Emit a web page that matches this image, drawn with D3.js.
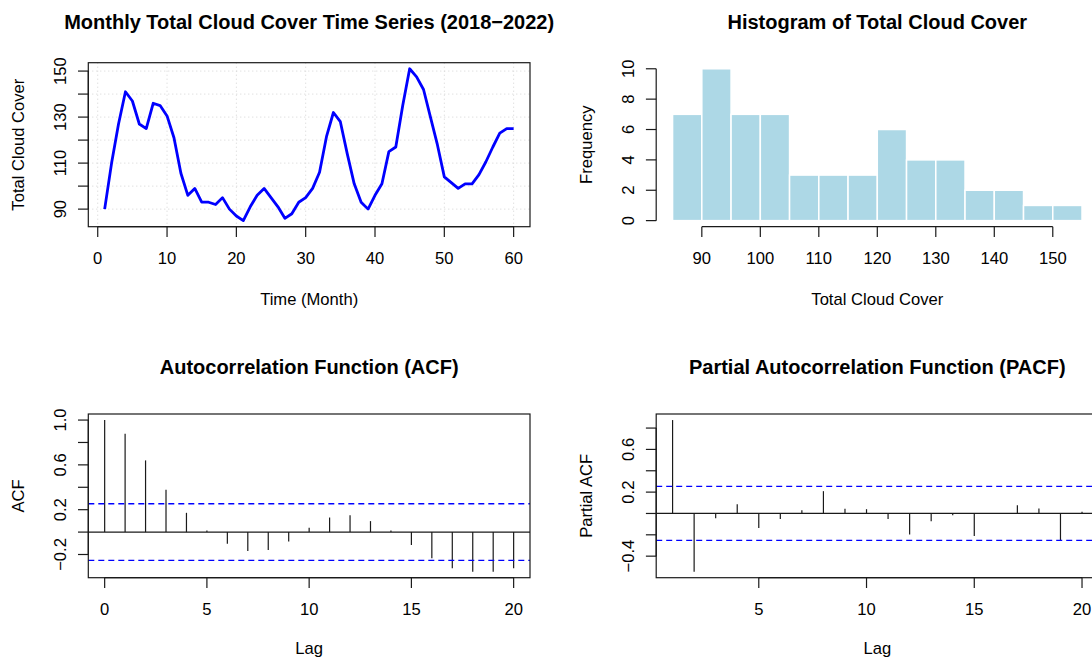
<!DOCTYPE html>
<html>
<head>
<meta charset="utf-8">
<script src="https://cdn.jsdelivr.net/npm/d3@7"></script>
<style>
	body { margin: 0; background: #fff; }
	svg { display: block; font-family: "Liberation Sans", Arial, Helvetica, sans-serif; }
	.title { font-size: 20px; font-weight: bold; }
	.lab, .tick-lab { font-size: 16.6px; }
</style>
</head>
<body>
<svg id="chart" width="1092" height="658"></svg>
<script>

// monthly total cloud cover, months 1..60
var months = d3.range(1, 61);
var cloud = [
	90, 110, 127, 141, 137, 127, 125, 136, 135, 130.5,
	121, 105.6, 96, 99, 93, 93, 92, 95, 90, 87,
	85, 91, 96, 99, 95, 91, 86, 88, 93, 95,
	99, 106, 121.5, 132, 128, 114, 101, 93, 90, 96,
	101, 115, 117, 135, 151, 147.5, 142, 130, 118, 104,
	101.5, 99, 101, 101, 105, 110.6, 117, 123, 125, 125
];

// histogram, breaks every 5 from 85 to 155
var histBreaks = d3.range(85, 156, 5);
var histCounts = [7, 10, 7, 7, 3, 3, 3, 6, 4, 4, 2, 2, 1, 1];

var acfLags = d3.range(0, 21);
var acfVals = [1.0, 0.877, 0.64, 0.379, 0.172, 0.015, -0.104, -0.169, -0.16, -0.083,
	0.039, 0.13, 0.151, 0.098, 0.015, -0.116, -0.234, -0.323, -0.353, -0.353, -0.323];

var pacfLags = d3.range(1, 21);
var pacfVals = [0.875, -0.545, -0.044, 0.087, -0.137, -0.053, 0.031, 0.209, 0.044, 0.04,
	-0.053, -0.196, -0.072, -0.016, -0.212, -0.006, 0.078, 0.047, -0.255, 0.016];

var ciBound = 0.253;		// qnorm(0.975)/sqrt(60)

var tsXTicks = d3.range(0, 61, 10);
var tsYTicks = d3.range(90, 151, 10), tsYLabels = [90, 110, 130, 150];
var histXTicks = d3.range(90, 151, 10);
var histYTicks = d3.range(0, 11, 2);
var acfXTicks = [0, 5, 10, 15, 20];
var acfYTicks = [-0.2, 0, 0.2, 0.4, 0.6, 0.8, 1.0], acfYLabels = [-0.2, 0.2, 0.6, 1.0];
var pacfXTicks = [5, 10, 15, 20];
var pacfYTicks = [-0.4, -0.2, 0, 0.2, 0.4, 0.6, 0.8], pacfYLabels = [-0.4, 0.2, 0.6];

var svg = d3.select("#chart");
var ink = "#1a1a1a";
var TL = 10.3;		// tick length

// plot regions (left/right column, top/bottom row)
var cols = [ [88.3, 530], [656.2, 1098.4] ];
var rows = [ [62.7, 226.7, 33.4, 78], [414, 577.7, 40, 76] ];		// top, bottom, title gap, xlab gap

function pad(ext)	{		// R style 4% extension
	var d = (ext[1] - ext[0]) * 0.04;
	return [ext[0] - d, ext[1] + d];
}

var intFmt = v => d3.format("d")(v);
var decFmt = v => (v < 0 ? "\u2212" : "") + d3.format(".1f")(Math.abs(v));

function frame(g, L, R, T, B)	{
	g.append("rect")
		.attr("x", L).attr("y", T)
		.attr("width", R - L).attr("height", B - T)
		.attr("fill", "none").attr("stroke", ink).attr("stroke-width", 1.2);
}

function xAxis(g, x, ticks, y0)	{
	g.append("line")
		.attr("x1", x(ticks[0])).attr("x2", x(ticks[ticks.length-1]))
		.attr("y1", y0).attr("y2", y0)
		.attr("stroke", ink).attr("stroke-width", 1.2);
	g.selectAll(null).data(ticks).join("line")
		.attr("x1", d => x(d)).attr("x2", d => x(d))
		.attr("y1", y0).attr("y2", y0 + TL)
		.attr("stroke", ink).attr("stroke-width", 1.2);
	g.selectAll(null).data(ticks).join("text")
		.attr("class", "tick-lab")
		.attr("x", d => x(d)).attr("y", y0 + 37)
		.attr("text-anchor", "middle")
		.text(intFmt);
}

function yAxis(g, y, ticks, x0, labels, fmt)	{
	g.append("line")
		.attr("x1", x0).attr("x2", x0)
		.attr("y1", y(ticks[0])).attr("y2", y(ticks[ticks.length-1]))
		.attr("stroke", ink).attr("stroke-width", 1.2);
	g.selectAll(null).data(ticks).join("line")
		.attr("x1", x0 - TL).attr("x2", x0)
		.attr("y1", d => y(d)).attr("y2", d => y(d))
		.attr("stroke", ink).attr("stroke-width", 1.2);
	g.selectAll(null).data(labels || ticks).join("text")
		.attr("class", "tick-lab")
		.attr("transform", d => `translate(${x0 - 22}, ${y(d)}) rotate(-90)`)
		.attr("text-anchor", "middle")
		.text(fmt || intFmt);
}

function labels(g, L, R, row, main, xlab, ylab)	{
	var [T, B, tg, xg] = row;
	g.append("text").attr("class", "title")
		.attr("x", (L + R) / 2).attr("y", T - tg)
		.attr("text-anchor", "middle").text(main);
	g.append("text").attr("class", "lab")
		.attr("x", (L + R) / 2).attr("y", B + xg)
		.attr("text-anchor", "middle").text(xlab);
	g.append("text").attr("class", "lab")
		.attr("transform", `translate(${L - 64}, ${(T + B) / 2}) rotate(-90)`)
		.attr("text-anchor", "middle").text(ylab);
}

// time series

(function()	{
	var [L, R] = cols[0], [T, B] = rows[0];
	var g = svg.append("g");
	var x = d3.scaleLinear(pad(d3.extent(months)), [L, R]);
	var y = d3.scaleLinear(pad(d3.extent(cloud)), [B, T]);

	var grid = g.append("g").attr("stroke", "#d3d3d3").attr("stroke-width", 1).attr("stroke-dasharray", "1,3");
	grid.selectAll(null).data(tsXTicks).join("line")
		.attr("x1", d => x(d)).attr("x2", d => x(d)).attr("y1", T).attr("y2", B);
	grid.selectAll(null).data(tsYTicks).join("line")
		.attr("y1", d => y(d)).attr("y2", d => y(d)).attr("x1", L).attr("x2", R);

	g.append("path")
		.datum(months.map((m, i) => [m, cloud[i]]))
		.attr("fill", "none").attr("stroke", "#0000ff").attr("stroke-width", 2.8)
		.attr("stroke-linejoin", "round")
		.attr("d", d3.line(d => x(d[0]), d => y(d[1])));

	frame(g, L, R, T, B);
	xAxis(g, x, tsXTicks, B);
	yAxis(g, y, tsYTicks, L, tsYLabels);
	labels(g, L, R, rows[0], "Monthly Total Cloud Cover Time Series (2018\u22122022)", "Time (Month)", "Total Cloud Cover");
})();

// histogram

(function()	{
	var [L, R] = cols[1], [T, B] = rows[0];
	var g = svg.append("g");
	var x = d3.scaleLinear(pad(d3.extent(histBreaks)), [L, R]);
	var y = d3.scaleLinear(pad([0, d3.max(histCounts)]), [B, T]);

	g.selectAll("rect").data(histCounts).join("rect")
		.attr("x", (d, i) => x(histBreaks[i]))
		.attr("width", (d, i) => x(histBreaks[i+1]) - x(histBreaks[i]))
		.attr("y", d => y(d))
		.attr("height", d => y(0) - y(d))
		.attr("fill", "#add8e6").attr("stroke", "#fff").attr("stroke-width", 1.5);

	xAxis(g, x, histXTicks, B);
	yAxis(g, y, histYTicks, L);
	labels(g, L, R, rows[0], "Histogram of Total Cloud Cover", "Total Cloud Cover", "Frequency");
})();

// ACF / PACF

function corrPanel(col, lags, vals, xTicks, yTicks, yLabels, main, ylab)	{
	var [L, R] = cols[col], [T, B] = rows[1];
	var g = svg.append("g");
	var x = d3.scaleLinear(pad(d3.extent(lags)), [L, R]);
	var y = d3.scaleLinear(pad(d3.extent(vals.concat([ciBound, -ciBound]))), [B, T]);

	g.selectAll(null).data(vals).join("line")
		.attr("x1", (d, i) => x(lags[i])).attr("x2", (d, i) => x(lags[i]))
		.attr("y1", y(0)).attr("y2", d => y(d))
		.attr("stroke", ink).attr("stroke-width", 1.2);

	g.append("line")
		.attr("x1", L).attr("x2", R).attr("y1", y(0)).attr("y2", y(0))
		.attr("stroke", ink).attr("stroke-width", 1.2);

	g.selectAll(null).data([ciBound, -ciBound]).join("line")
		.attr("x1", L).attr("x2", R).attr("y1", d => y(d)).attr("y2", d => y(d))
		.attr("stroke", "#0000ff").attr("stroke-width", 1.3).attr("stroke-dasharray", "6,4");

	frame(g, L, R, T, B);
	xAxis(g, x, xTicks, B);
	yAxis(g, y, yTicks, L, yLabels, decFmt);
	labels(g, L, R, rows[1], main, "Lag", ylab);
}

corrPanel(0, acfLags, acfVals, acfXTicks, acfYTicks, acfYLabels, "Autocorrelation Function (ACF)", "ACF");
corrPanel(1, pacfLags, pacfVals, pacfXTicks, pacfYTicks, pacfYLabels, "Partial Autocorrelation Function (PACF)", "Partial ACF");

</script>
</body>
</html>
